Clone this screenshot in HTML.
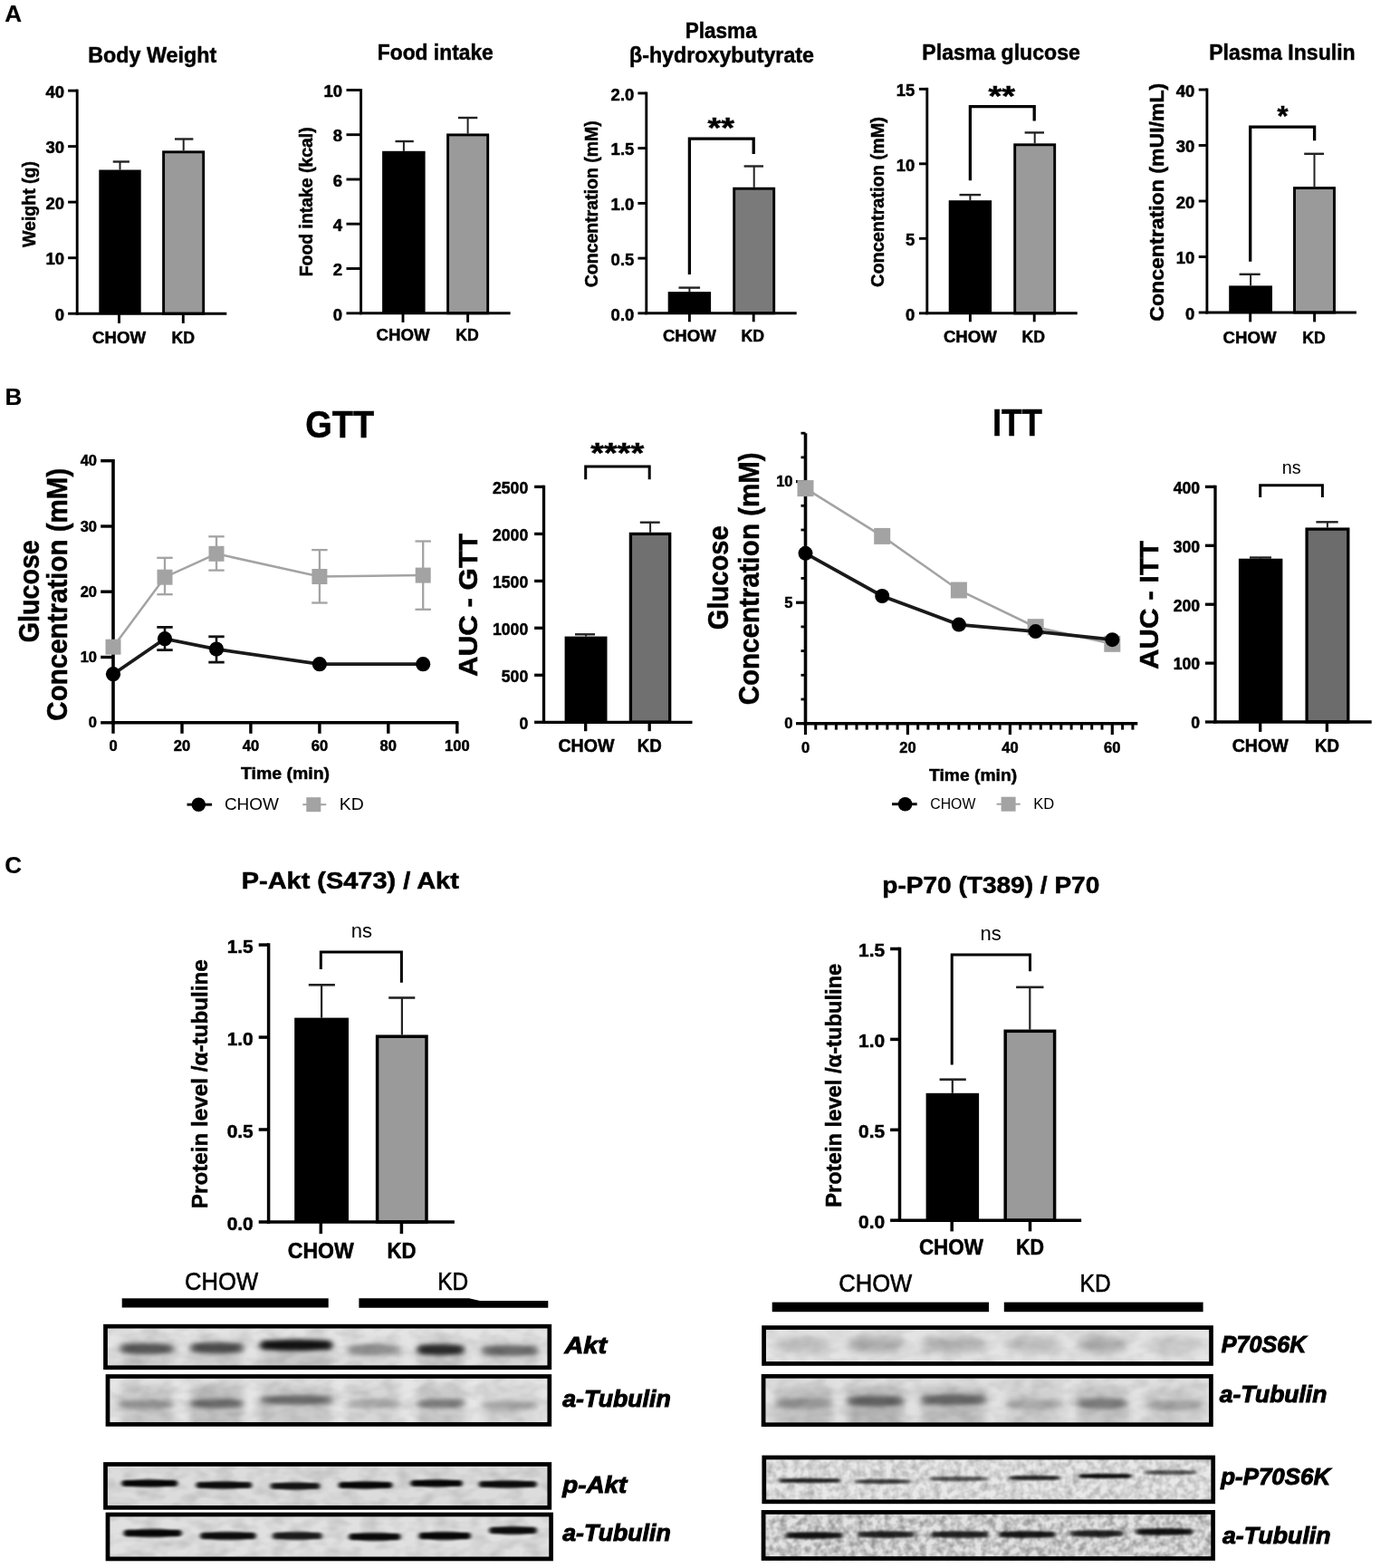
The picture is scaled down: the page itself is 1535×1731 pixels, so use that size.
<!DOCTYPE html>
<html lang="en">
<head>
<meta charset="utf-8">
<title>Figure</title>
<style>
html,body{margin:0;padding:0;background:#fff;}
body{width:1535px;height:1731px;overflow:hidden;font-family:"Liberation Sans",Arial,sans-serif;}
svg{display:block;}
</style>
</head>
<body>
<svg width="1535" height="1731" viewBox="0 0 1535 1731">
<rect width="1535" height="1731" fill="#fff"/>
<g font-family='"Liberation Sans", Arial, sans-serif' fill="#000">
<text x="5.2" y="23.9" font-size="26.0" text-anchor="start" font-weight="bold" stroke="#000" stroke-width="0.2">A</text>
<text x="5.6" y="447.4" font-size="26.0" text-anchor="start" font-weight="bold" stroke="#000" stroke-width="0.2">B</text>
<text x="5.2" y="964.3" font-size="26.0" text-anchor="start" font-weight="bold" stroke="#000" stroke-width="0.2">C</text>
<text x="168.2" y="68.5" font-size="24.75" text-anchor="middle" font-weight="bold" stroke="#000" stroke-width="0.5" textLength="142.0" lengthAdjust="spacingAndGlyphs">Body Weight</text>
<text x="38.6" y="225.5" font-size="20.02" text-anchor="middle" font-weight="bold" stroke="#000" stroke-width="0.5" textLength="95.0" lengthAdjust="spacingAndGlyphs" transform="rotate(-90 38.6 225.5)">Weight (g)</text>
<line x1="132.5" y1="187.5" x2="132.5" y2="178.5" stroke="#222" stroke-width="2.0" stroke-linecap="butt"/>
<line x1="124.7" y1="178.5" x2="142.9" y2="178.5" stroke="#222" stroke-width="2.4" stroke-linecap="butt"/>
<line x1="202.7" y1="166.3" x2="202.7" y2="153.5" stroke="#222" stroke-width="2.0" stroke-linecap="butt"/>
<line x1="193.0" y1="153.5" x2="213.4" y2="153.5" stroke="#222" stroke-width="2.4" stroke-linecap="butt"/>
<rect x="109.3" y="187.5" width="46.4" height="158.7" fill="#000"/>
<rect x="180.6" y="167.8" width="44.1" height="178.4" fill="#9a9a9a" stroke="#000" stroke-width="2.9"/>
<line x1="85.2" y1="98.6" x2="85.2" y2="347.6" stroke="#000" stroke-width="2.9" stroke-linecap="butt"/>
<line x1="83.8" y1="346.2" x2="250.3" y2="346.2" stroke="#000" stroke-width="2.9" stroke-linecap="butt"/>
<line x1="75.1" y1="346.2" x2="85.2" y2="346.2" stroke="#000" stroke-width="2.9" stroke-linecap="butt"/>
<text x="71.0" y="353.9" font-size="18.48" text-anchor="end" font-weight="bold" stroke="#000" stroke-width="0.5">0</text>
<line x1="75.1" y1="284.7" x2="85.2" y2="284.7" stroke="#000" stroke-width="2.9" stroke-linecap="butt"/>
<text x="71.0" y="292.3" font-size="18.48" text-anchor="end" font-weight="bold" stroke="#000" stroke-width="0.5">10</text>
<line x1="75.1" y1="223.1" x2="85.2" y2="223.1" stroke="#000" stroke-width="2.9" stroke-linecap="butt"/>
<text x="71.0" y="230.8" font-size="18.48" text-anchor="end" font-weight="bold" stroke="#000" stroke-width="0.5">20</text>
<line x1="75.1" y1="161.6" x2="85.2" y2="161.6" stroke="#000" stroke-width="2.9" stroke-linecap="butt"/>
<text x="71.0" y="169.3" font-size="18.48" text-anchor="end" font-weight="bold" stroke="#000" stroke-width="0.5">30</text>
<line x1="75.1" y1="100.1" x2="85.2" y2="100.1" stroke="#000" stroke-width="2.9" stroke-linecap="butt"/>
<text x="71.0" y="107.8" font-size="18.48" text-anchor="end" font-weight="bold" stroke="#000" stroke-width="0.5">40</text>
<line x1="131.5" y1="346.2" x2="131.5" y2="356.9" stroke="#000" stroke-width="2.9" stroke-linecap="butt"/>
<text x="131.5" y="378.7" font-size="19.25" text-anchor="middle" font-weight="bold" stroke="#000" stroke-width="0.5" textLength="59.0" lengthAdjust="spacingAndGlyphs">CHOW</text>
<line x1="202.3" y1="346.2" x2="202.3" y2="356.9" stroke="#000" stroke-width="2.9" stroke-linecap="butt"/>
<text x="202.3" y="378.7" font-size="19.25" text-anchor="middle" font-weight="bold" stroke="#000" stroke-width="0.5" textLength="25.5" lengthAdjust="spacingAndGlyphs">KD</text>
<text x="480.8" y="66.3" font-size="24.75" text-anchor="middle" font-weight="bold" stroke="#000" stroke-width="0.5" textLength="128.0" lengthAdjust="spacingAndGlyphs">Food intake</text>
<text x="345.2" y="222.8" font-size="19.8" text-anchor="middle" font-weight="bold" stroke="#000" stroke-width="0.5" textLength="165.0" lengthAdjust="spacingAndGlyphs" transform="rotate(-90 345.2 222.8)">Food intake (kcal)</text>
<line x1="445.9" y1="166.8" x2="445.9" y2="156.0" stroke="#222" stroke-width="2.0" stroke-linecap="butt"/>
<line x1="436.5" y1="156.0" x2="456.8" y2="156.0" stroke="#222" stroke-width="2.4" stroke-linecap="butt"/>
<line x1="516.6" y1="147.5" x2="516.6" y2="130.0" stroke="#222" stroke-width="2.0" stroke-linecap="butt"/>
<line x1="505.9" y1="130.0" x2="527.3" y2="130.0" stroke="#222" stroke-width="2.4" stroke-linecap="butt"/>
<rect x="422.1" y="166.8" width="47.5" height="179.0" fill="#000"/>
<rect x="494.6" y="148.9" width="44.1" height="196.9" fill="#9a9a9a" stroke="#000" stroke-width="2.9"/>
<line x1="398.6" y1="98.0" x2="398.6" y2="347.2" stroke="#000" stroke-width="2.9" stroke-linecap="butt"/>
<line x1="397.2" y1="345.8" x2="563.6" y2="345.8" stroke="#000" stroke-width="2.9" stroke-linecap="butt"/>
<line x1="382.5" y1="345.8" x2="398.6" y2="345.8" stroke="#000" stroke-width="2.9" stroke-linecap="butt"/>
<text x="378.1" y="353.5" font-size="18.48" text-anchor="end" font-weight="bold" stroke="#000" stroke-width="0.5">0</text>
<line x1="382.5" y1="296.5" x2="398.6" y2="296.5" stroke="#000" stroke-width="2.9" stroke-linecap="butt"/>
<text x="378.1" y="304.2" font-size="18.48" text-anchor="end" font-weight="bold" stroke="#000" stroke-width="0.5">2</text>
<line x1="382.5" y1="247.2" x2="398.6" y2="247.2" stroke="#000" stroke-width="2.9" stroke-linecap="butt"/>
<text x="378.1" y="254.9" font-size="18.48" text-anchor="end" font-weight="bold" stroke="#000" stroke-width="0.5">4</text>
<line x1="382.5" y1="198.0" x2="398.6" y2="198.0" stroke="#000" stroke-width="2.9" stroke-linecap="butt"/>
<text x="378.1" y="205.6" font-size="18.48" text-anchor="end" font-weight="bold" stroke="#000" stroke-width="0.5">6</text>
<line x1="382.5" y1="148.7" x2="398.6" y2="148.7" stroke="#000" stroke-width="2.9" stroke-linecap="butt"/>
<text x="378.1" y="156.3" font-size="18.48" text-anchor="end" font-weight="bold" stroke="#000" stroke-width="0.5">8</text>
<line x1="382.5" y1="99.4" x2="398.6" y2="99.4" stroke="#000" stroke-width="2.9" stroke-linecap="butt"/>
<text x="378.1" y="107.1" font-size="18.48" text-anchor="end" font-weight="bold" stroke="#000" stroke-width="0.5">10</text>
<line x1="445.0" y1="345.8" x2="445.0" y2="355.9" stroke="#000" stroke-width="2.9" stroke-linecap="butt"/>
<text x="445.0" y="375.7" font-size="19.25" text-anchor="middle" font-weight="bold" stroke="#000" stroke-width="0.5" textLength="59.0" lengthAdjust="spacingAndGlyphs">CHOW</text>
<line x1="516.6" y1="345.8" x2="516.6" y2="355.9" stroke="#000" stroke-width="2.9" stroke-linecap="butt"/>
<text x="516.0" y="375.7" font-size="19.25" text-anchor="middle" font-weight="bold" stroke="#000" stroke-width="0.5" textLength="25.5" lengthAdjust="spacingAndGlyphs">KD</text>
<text x="796.2" y="41.6" font-size="24.75" text-anchor="middle" font-weight="bold" stroke="#000" stroke-width="0.5" textLength="79.0" lengthAdjust="spacingAndGlyphs">Plasma</text>
<text x="797.0" y="69.0" font-size="24.75" text-anchor="middle" font-weight="bold" stroke="#000" stroke-width="0.5" textLength="204.0" lengthAdjust="spacingAndGlyphs">β-hydroxybutyrate</text>
<text x="660.4" y="225.2" font-size="19.8" text-anchor="middle" font-weight="bold" stroke="#000" stroke-width="0.5" textLength="184.0" lengthAdjust="spacingAndGlyphs" transform="rotate(-90 660.4 225.2)">Concentration (mM)</text>
<line x1="761.4" y1="322.1" x2="761.4" y2="317.6" stroke="#222" stroke-width="2.0" stroke-linecap="butt"/>
<line x1="749.5" y1="317.6" x2="773.1" y2="317.6" stroke="#222" stroke-width="2.4" stroke-linecap="butt"/>
<line x1="832.7" y1="206.8" x2="832.7" y2="183.5" stroke="#222" stroke-width="2.0" stroke-linecap="butt"/>
<line x1="821.6" y1="183.5" x2="843.0" y2="183.5" stroke="#222" stroke-width="2.4" stroke-linecap="butt"/>
<rect x="737.7" y="322.1" width="47.4" height="23.7" fill="#000"/>
<rect x="810.7" y="208.2" width="44.0" height="137.6" fill="#7a7a7a" stroke="#000" stroke-width="2.9"/>
<line x1="713.8" y1="101.5" x2="713.8" y2="347.2" stroke="#000" stroke-width="2.9" stroke-linecap="butt"/>
<line x1="712.3" y1="345.8" x2="879.7" y2="345.8" stroke="#000" stroke-width="2.9" stroke-linecap="butt"/>
<line x1="704.4" y1="345.8" x2="713.8" y2="345.8" stroke="#000" stroke-width="2.9" stroke-linecap="butt"/>
<text x="700.3" y="353.5" font-size="18.48" text-anchor="end" font-weight="bold" stroke="#000" stroke-width="0.5">0.0</text>
<line x1="704.4" y1="285.1" x2="713.8" y2="285.1" stroke="#000" stroke-width="2.9" stroke-linecap="butt"/>
<text x="700.3" y="292.7" font-size="18.48" text-anchor="end" font-weight="bold" stroke="#000" stroke-width="0.5">0.5</text>
<line x1="704.4" y1="224.4" x2="713.8" y2="224.4" stroke="#000" stroke-width="2.9" stroke-linecap="butt"/>
<text x="700.3" y="232.0" font-size="18.48" text-anchor="end" font-weight="bold" stroke="#000" stroke-width="0.5">1.0</text>
<line x1="704.4" y1="163.6" x2="713.8" y2="163.6" stroke="#000" stroke-width="2.9" stroke-linecap="butt"/>
<text x="700.3" y="171.3" font-size="18.48" text-anchor="end" font-weight="bold" stroke="#000" stroke-width="0.5">1.5</text>
<line x1="704.4" y1="102.9" x2="713.8" y2="102.9" stroke="#000" stroke-width="2.9" stroke-linecap="butt"/>
<text x="700.3" y="110.6" font-size="18.48" text-anchor="end" font-weight="bold" stroke="#000" stroke-width="0.5">2.0</text>
<line x1="761.4" y1="345.8" x2="761.4" y2="355.3" stroke="#000" stroke-width="2.9" stroke-linecap="butt"/>
<text x="761.4" y="376.9" font-size="19.25" text-anchor="middle" font-weight="bold" stroke="#000" stroke-width="0.5" textLength="59.0" lengthAdjust="spacingAndGlyphs">CHOW</text>
<line x1="832.2" y1="345.8" x2="832.2" y2="355.3" stroke="#000" stroke-width="2.9" stroke-linecap="butt"/>
<text x="831.3" y="376.9" font-size="19.25" text-anchor="middle" font-weight="bold" stroke="#000" stroke-width="0.5" textLength="25.5" lengthAdjust="spacingAndGlyphs">KD</text>
<path d="M761.4 303.0 V153.1 H832.2 V170.0" fill="none" stroke="#000" stroke-width="3.3" stroke-linejoin="miter"/>
<text x="796.3" y="152.0" font-size="30.8" text-anchor="middle" font-weight="bold" stroke="#000" stroke-width="0.5" textLength="29.5" lengthAdjust="spacingAndGlyphs">**</text>
<text x="1105.6" y="65.7" font-size="24.75" text-anchor="middle" font-weight="bold" stroke="#000" stroke-width="0.5" textLength="174.5" lengthAdjust="spacingAndGlyphs">Plasma glucose</text>
<text x="976.0" y="223.0" font-size="20.35" text-anchor="middle" font-weight="bold" stroke="#000" stroke-width="0.5" textLength="188.0" lengthAdjust="spacingAndGlyphs" transform="rotate(-90 976.0 223.0)">Concentration (mM)</text>
<line x1="1071.4" y1="221.2" x2="1071.4" y2="215.1" stroke="#222" stroke-width="2.0" stroke-linecap="butt"/>
<line x1="1059.5" y1="215.1" x2="1083.1" y2="215.1" stroke="#222" stroke-width="2.4" stroke-linecap="butt"/>
<line x1="1142.7" y1="158.3" x2="1142.7" y2="146.4" stroke="#222" stroke-width="2.0" stroke-linecap="butt"/>
<line x1="1131.6" y1="146.4" x2="1153.0" y2="146.4" stroke="#222" stroke-width="2.4" stroke-linecap="butt"/>
<rect x="1047.7" y="221.2" width="47.4" height="124.6" fill="#000"/>
<rect x="1120.7" y="159.8" width="44.0" height="186.1" fill="#9a9a9a" stroke="#000" stroke-width="2.9"/>
<line x1="1023.8" y1="96.8" x2="1023.8" y2="347.2" stroke="#000" stroke-width="2.9" stroke-linecap="butt"/>
<line x1="1022.3" y1="345.8" x2="1189.7" y2="345.8" stroke="#000" stroke-width="2.9" stroke-linecap="butt"/>
<line x1="1015.0" y1="345.8" x2="1023.8" y2="345.8" stroke="#000" stroke-width="2.9" stroke-linecap="butt"/>
<text x="1010.3" y="353.5" font-size="18.48" text-anchor="end" font-weight="bold" stroke="#000" stroke-width="0.5">0</text>
<line x1="1015.0" y1="263.3" x2="1023.8" y2="263.3" stroke="#000" stroke-width="2.9" stroke-linecap="butt"/>
<text x="1010.3" y="271.0" font-size="18.48" text-anchor="end" font-weight="bold" stroke="#000" stroke-width="0.5">5</text>
<line x1="1015.0" y1="180.8" x2="1023.8" y2="180.8" stroke="#000" stroke-width="2.9" stroke-linecap="butt"/>
<text x="1010.3" y="188.5" font-size="18.48" text-anchor="end" font-weight="bold" stroke="#000" stroke-width="0.5">10</text>
<line x1="1015.0" y1="98.3" x2="1023.8" y2="98.3" stroke="#000" stroke-width="2.9" stroke-linecap="butt"/>
<text x="1010.3" y="106.0" font-size="18.48" text-anchor="end" font-weight="bold" stroke="#000" stroke-width="0.5">15</text>
<line x1="1071.4" y1="345.8" x2="1071.4" y2="355.3" stroke="#000" stroke-width="2.9" stroke-linecap="butt"/>
<text x="1071.4" y="377.8" font-size="19.25" text-anchor="middle" font-weight="bold" stroke="#000" stroke-width="0.5" textLength="59.0" lengthAdjust="spacingAndGlyphs">CHOW</text>
<line x1="1142.2" y1="345.8" x2="1142.2" y2="355.3" stroke="#000" stroke-width="2.9" stroke-linecap="butt"/>
<text x="1141.3" y="377.8" font-size="19.25" text-anchor="middle" font-weight="bold" stroke="#000" stroke-width="0.5" textLength="25.5" lengthAdjust="spacingAndGlyphs">KD</text>
<path d="M1071.4 199.3 V117.7 H1142.2 V133.5" fill="none" stroke="#000" stroke-width="3.3" stroke-linejoin="miter"/>
<text x="1106.3" y="117.0" font-size="30.8" text-anchor="middle" font-weight="bold" stroke="#000" stroke-width="0.5" textLength="29.5" lengthAdjust="spacingAndGlyphs">**</text>
<text x="1415.9" y="66.0" font-size="24.75" text-anchor="middle" font-weight="bold" stroke="#000" stroke-width="0.5" textLength="161.5" lengthAdjust="spacingAndGlyphs">Plasma Insulin</text>
<text x="1284.9" y="223.2" font-size="22.55" text-anchor="middle" font-weight="bold" stroke="#000" stroke-width="0.5" textLength="263.0" lengthAdjust="spacingAndGlyphs" transform="rotate(-90 1284.9 223.2)">Concentration (mUI/mL)</text>
<line x1="1381.1" y1="315.4" x2="1381.1" y2="302.8" stroke="#222" stroke-width="2.0" stroke-linecap="butt"/>
<line x1="1368.6" y1="302.8" x2="1391.7" y2="302.8" stroke="#222" stroke-width="2.4" stroke-linecap="butt"/>
<line x1="1451.5" y1="206.2" x2="1451.5" y2="169.8" stroke="#222" stroke-width="2.0" stroke-linecap="butt"/>
<line x1="1440.2" y1="169.8" x2="1462.0" y2="169.8" stroke="#222" stroke-width="2.4" stroke-linecap="butt"/>
<rect x="1357.2" y="315.4" width="47.8" height="29.6" fill="#000"/>
<rect x="1429.5" y="207.6" width="44.0" height="137.4" fill="#9a9a9a" stroke="#000" stroke-width="2.9"/>
<line x1="1332.9" y1="97.5" x2="1332.9" y2="346.4" stroke="#000" stroke-width="2.9" stroke-linecap="butt"/>
<line x1="1331.5" y1="345.0" x2="1497.9" y2="345.0" stroke="#000" stroke-width="2.9" stroke-linecap="butt"/>
<line x1="1323.7" y1="345.0" x2="1332.9" y2="345.0" stroke="#000" stroke-width="2.9" stroke-linecap="butt"/>
<text x="1319.4" y="352.7" font-size="18.48" text-anchor="end" font-weight="bold" stroke="#000" stroke-width="0.5">0</text>
<line x1="1323.7" y1="283.5" x2="1332.9" y2="283.5" stroke="#000" stroke-width="2.9" stroke-linecap="butt"/>
<text x="1319.4" y="291.2" font-size="18.48" text-anchor="end" font-weight="bold" stroke="#000" stroke-width="0.5">10</text>
<line x1="1323.7" y1="222.0" x2="1332.9" y2="222.0" stroke="#000" stroke-width="2.9" stroke-linecap="butt"/>
<text x="1319.4" y="229.7" font-size="18.48" text-anchor="end" font-weight="bold" stroke="#000" stroke-width="0.5">20</text>
<line x1="1323.7" y1="160.5" x2="1332.9" y2="160.5" stroke="#000" stroke-width="2.9" stroke-linecap="butt"/>
<text x="1319.4" y="168.2" font-size="18.48" text-anchor="end" font-weight="bold" stroke="#000" stroke-width="0.5">30</text>
<line x1="1323.7" y1="99.0" x2="1332.9" y2="99.0" stroke="#000" stroke-width="2.9" stroke-linecap="butt"/>
<text x="1319.4" y="106.7" font-size="18.48" text-anchor="end" font-weight="bold" stroke="#000" stroke-width="0.5">40</text>
<line x1="1380.7" y1="345.0" x2="1380.7" y2="355.4" stroke="#000" stroke-width="2.9" stroke-linecap="butt"/>
<text x="1380.0" y="378.5" font-size="19.25" text-anchor="middle" font-weight="bold" stroke="#000" stroke-width="0.5" textLength="59.0" lengthAdjust="spacingAndGlyphs">CHOW</text>
<line x1="1451.6" y1="345.0" x2="1451.6" y2="355.4" stroke="#000" stroke-width="2.9" stroke-linecap="butt"/>
<text x="1451.0" y="378.5" font-size="19.25" text-anchor="middle" font-weight="bold" stroke="#000" stroke-width="0.5" textLength="25.5" lengthAdjust="spacingAndGlyphs">KD</text>
<path d="M1380.7 288.7 V140.2 H1451.6 V155.3" fill="none" stroke="#000" stroke-width="3.3" stroke-linejoin="miter"/>
<text x="1416.6" y="139.0" font-size="30.8" text-anchor="middle" font-weight="bold" stroke="#000" stroke-width="0.5">*</text>
<text x="375.2" y="482.5" font-size="42.9" text-anchor="middle" font-weight="bold" stroke="#000" stroke-width="0.5" textLength="76.0" lengthAdjust="spacingAndGlyphs">GTT</text>
<text x="43.2" y="652.7" font-size="31.35" text-anchor="middle" font-weight="bold" stroke="#000" stroke-width="0.5" textLength="113.0" lengthAdjust="spacingAndGlyphs" transform="rotate(-90 43.2 652.7)">Glucose</text>
<text x="74.2" y="656.2" font-size="31.35" text-anchor="middle" font-weight="bold" stroke="#000" stroke-width="0.5" textLength="279.0" lengthAdjust="spacingAndGlyphs" transform="rotate(-90 74.2 656.2)">Concentration (mM)</text>
<line x1="125.0" y1="507.0" x2="125.0" y2="799.6" stroke="#000" stroke-width="3.6" stroke-linecap="butt"/>
<line x1="123.2" y1="797.8" x2="506.4" y2="797.8" stroke="#000" stroke-width="3.6" stroke-linecap="butt"/>
<line x1="111.2" y1="797.8" x2="125.0" y2="797.8" stroke="#000" stroke-width="3.4" stroke-linecap="butt"/>
<text x="107.0" y="803.3" font-size="16.5" text-anchor="end" font-weight="bold" stroke="#000" stroke-width="0.5">0</text>
<line x1="111.2" y1="725.5" x2="125.0" y2="725.5" stroke="#000" stroke-width="3.4" stroke-linecap="butt"/>
<text x="107.0" y="731.0" font-size="16.5" text-anchor="end" font-weight="bold" stroke="#000" stroke-width="0.5">10</text>
<line x1="111.2" y1="653.2" x2="125.0" y2="653.2" stroke="#000" stroke-width="3.4" stroke-linecap="butt"/>
<text x="107.0" y="658.8" font-size="16.5" text-anchor="end" font-weight="bold" stroke="#000" stroke-width="0.5">20</text>
<line x1="111.2" y1="581.0" x2="125.0" y2="581.0" stroke="#000" stroke-width="3.4" stroke-linecap="butt"/>
<text x="107.0" y="586.5" font-size="16.5" text-anchor="end" font-weight="bold" stroke="#000" stroke-width="0.5">30</text>
<line x1="111.2" y1="508.7" x2="125.0" y2="508.7" stroke="#000" stroke-width="3.4" stroke-linecap="butt"/>
<text x="107.0" y="514.2" font-size="16.5" text-anchor="end" font-weight="bold" stroke="#000" stroke-width="0.5">40</text>
<line x1="125.0" y1="797.8" x2="125.0" y2="809.8" stroke="#000" stroke-width="3.4" stroke-linecap="butt"/>
<text x="125.0" y="828.8" font-size="16.5" text-anchor="middle" font-weight="bold" stroke="#000" stroke-width="0.5">0</text>
<line x1="201.0" y1="797.8" x2="201.0" y2="809.8" stroke="#000" stroke-width="3.4" stroke-linecap="butt"/>
<text x="201.0" y="828.8" font-size="16.5" text-anchor="middle" font-weight="bold" stroke="#000" stroke-width="0.5">20</text>
<line x1="276.9" y1="797.8" x2="276.9" y2="809.8" stroke="#000" stroke-width="3.4" stroke-linecap="butt"/>
<text x="276.9" y="828.8" font-size="16.5" text-anchor="middle" font-weight="bold" stroke="#000" stroke-width="0.5">40</text>
<line x1="352.9" y1="797.8" x2="352.9" y2="809.8" stroke="#000" stroke-width="3.4" stroke-linecap="butt"/>
<text x="352.9" y="828.8" font-size="16.5" text-anchor="middle" font-weight="bold" stroke="#000" stroke-width="0.5">60</text>
<line x1="428.8" y1="797.8" x2="428.8" y2="809.8" stroke="#000" stroke-width="3.4" stroke-linecap="butt"/>
<text x="428.8" y="828.8" font-size="16.5" text-anchor="middle" font-weight="bold" stroke="#000" stroke-width="0.5">80</text>
<line x1="504.8" y1="797.8" x2="504.8" y2="809.8" stroke="#000" stroke-width="3.4" stroke-linecap="butt"/>
<text x="504.8" y="828.8" font-size="16.5" text-anchor="middle" font-weight="bold" stroke="#000" stroke-width="0.5">100</text>
<text x="315.0" y="859.9" font-size="18.7" text-anchor="middle" font-weight="bold" stroke="#000" stroke-width="0.5" textLength="98.0" lengthAdjust="spacingAndGlyphs">Time (min)</text>
<polyline fill="none" stroke="#a3a3a3" stroke-width="2.5" points="125,714.2 182,637.2 239,611.3 352.9,636.5 467.2,635.1"/>
<rect x="116.5" y="705.7" width="17.0" height="17.0" fill="#a3a3a3"/>
<line x1="182.0" y1="615.8" x2="182.0" y2="656.2" stroke="#a3a3a3" stroke-width="2.3" stroke-linecap="butt"/>
<line x1="173.3" y1="615.8" x2="190.7" y2="615.8" stroke="#a3a3a3" stroke-width="2.3" stroke-linecap="butt"/>
<line x1="173.3" y1="656.2" x2="190.7" y2="656.2" stroke="#a3a3a3" stroke-width="2.3" stroke-linecap="butt"/>
<rect x="173.5" y="628.7" width="17.0" height="17.0" fill="#a3a3a3"/>
<line x1="239.0" y1="592.3" x2="239.0" y2="629.6" stroke="#a3a3a3" stroke-width="2.3" stroke-linecap="butt"/>
<line x1="230.3" y1="592.3" x2="247.7" y2="592.3" stroke="#a3a3a3" stroke-width="2.3" stroke-linecap="butt"/>
<line x1="230.3" y1="629.6" x2="247.7" y2="629.6" stroke="#a3a3a3" stroke-width="2.3" stroke-linecap="butt"/>
<rect x="230.5" y="602.8" width="17.0" height="17.0" fill="#a3a3a3"/>
<line x1="352.9" y1="607.1" x2="352.9" y2="665.5" stroke="#a3a3a3" stroke-width="2.3" stroke-linecap="butt"/>
<line x1="344.2" y1="607.1" x2="361.6" y2="607.1" stroke="#a3a3a3" stroke-width="2.3" stroke-linecap="butt"/>
<line x1="344.2" y1="665.5" x2="361.6" y2="665.5" stroke="#a3a3a3" stroke-width="2.3" stroke-linecap="butt"/>
<rect x="344.4" y="628.0" width="17.0" height="17.0" fill="#a3a3a3"/>
<line x1="467.2" y1="597.5" x2="467.2" y2="672.8" stroke="#a3a3a3" stroke-width="2.3" stroke-linecap="butt"/>
<line x1="458.5" y1="597.5" x2="475.9" y2="597.5" stroke="#a3a3a3" stroke-width="2.3" stroke-linecap="butt"/>
<line x1="458.5" y1="672.8" x2="475.9" y2="672.8" stroke="#a3a3a3" stroke-width="2.3" stroke-linecap="butt"/>
<rect x="458.7" y="626.6" width="17.0" height="17.0" fill="#a3a3a3"/>
<polyline fill="none" stroke="#1a1a1a" stroke-width="3.7" points="125,744.2 182,705.2 239,716.6 352.9,733.2 467.2,733.2"/>
<circle cx="125" cy="744.2" r="8.1" fill="#000"/>
<line x1="182.0" y1="692.4" x2="182.0" y2="717.6" stroke="#111" stroke-width="2.6" stroke-linecap="butt"/>
<line x1="173.3" y1="692.4" x2="190.7" y2="692.4" stroke="#111" stroke-width="2.8" stroke-linecap="butt"/>
<line x1="173.3" y1="717.6" x2="190.7" y2="717.6" stroke="#111" stroke-width="2.8" stroke-linecap="butt"/>
<circle cx="182" cy="705.2" r="8.1" fill="#000"/>
<line x1="239.0" y1="702.8" x2="239.0" y2="731.1" stroke="#111" stroke-width="2.6" stroke-linecap="butt"/>
<line x1="230.3" y1="702.8" x2="247.7" y2="702.8" stroke="#111" stroke-width="2.8" stroke-linecap="butt"/>
<line x1="230.3" y1="731.1" x2="247.7" y2="731.1" stroke="#111" stroke-width="2.8" stroke-linecap="butt"/>
<circle cx="239" cy="716.6" r="8.1" fill="#000"/>
<circle cx="352.9" cy="733.2" r="8.1" fill="#000"/>
<circle cx="467.2" cy="733.2" r="8.1" fill="#000"/>
<line x1="206.5" y1="888.2" x2="234.1" y2="888.2" stroke="#111" stroke-width="3" stroke-linecap="butt"/>
<circle cx="219.3" cy="888.2" r="7.8" fill="#000"/>
<text x="247.9" y="894.4" font-size="17.6" text-anchor="start" textLength="60.0" lengthAdjust="spacingAndGlyphs">CHOW</text>
<line x1="334.3" y1="888.2" x2="360.2" y2="888.2" stroke="#a3a3a3" stroke-width="2" stroke-linecap="butt"/>
<rect x="338.3" y="880.2" width="16.0" height="16.0" fill="#a3a3a3"/>
<text x="374.7" y="894.4" font-size="17.6" text-anchor="start" textLength="27.0" lengthAdjust="spacingAndGlyphs">KD</text>
<text x="526.6" y="667.9" font-size="30.25" text-anchor="middle" font-weight="bold" stroke="#000" stroke-width="0.5" textLength="158.0" lengthAdjust="spacingAndGlyphs" transform="rotate(-90 526.6 667.9)">AUC - GTT</text>
<line x1="647.0" y1="702.6" x2="647.0" y2="700.3" stroke="#222" stroke-width="2.0" stroke-linecap="butt"/>
<line x1="635.0" y1="700.3" x2="657.0" y2="700.3" stroke="#222" stroke-width="2.4" stroke-linecap="butt"/>
<line x1="718.1" y1="587.8" x2="718.1" y2="576.7" stroke="#222" stroke-width="2.0" stroke-linecap="butt"/>
<line x1="706.8" y1="576.7" x2="728.7" y2="576.7" stroke="#222" stroke-width="2.4" stroke-linecap="butt"/>
<rect x="623.6" y="702.6" width="46.9" height="94.7" fill="#000"/>
<rect x="696.4" y="589.4" width="43.3" height="207.8" fill="#707070" stroke="#000" stroke-width="3.3"/>
<line x1="600.5" y1="535.8" x2="600.5" y2="798.9" stroke="#000" stroke-width="3.3" stroke-linecap="butt"/>
<line x1="598.9" y1="797.3" x2="764.5" y2="797.3" stroke="#000" stroke-width="3.3" stroke-linecap="butt"/>
<line x1="590.1" y1="797.3" x2="600.5" y2="797.3" stroke="#000" stroke-width="3.3" stroke-linecap="butt"/>
<text x="583.2" y="804.6" font-size="17.6" text-anchor="end" font-weight="bold" stroke="#000" stroke-width="0.5">0</text>
<line x1="590.1" y1="745.3" x2="600.5" y2="745.3" stroke="#000" stroke-width="3.3" stroke-linecap="butt"/>
<text x="583.2" y="752.7" font-size="17.6" text-anchor="end" font-weight="bold" stroke="#000" stroke-width="0.5">500</text>
<line x1="590.1" y1="693.3" x2="600.5" y2="693.3" stroke="#000" stroke-width="3.3" stroke-linecap="butt"/>
<text x="583.2" y="700.7" font-size="17.6" text-anchor="end" font-weight="bold" stroke="#000" stroke-width="0.5">1000</text>
<line x1="590.1" y1="641.4" x2="600.5" y2="641.4" stroke="#000" stroke-width="3.3" stroke-linecap="butt"/>
<text x="583.2" y="648.7" font-size="17.6" text-anchor="end" font-weight="bold" stroke="#000" stroke-width="0.5">1500</text>
<line x1="590.1" y1="589.4" x2="600.5" y2="589.4" stroke="#000" stroke-width="3.3" stroke-linecap="butt"/>
<text x="583.2" y="596.7" font-size="17.6" text-anchor="end" font-weight="bold" stroke="#000" stroke-width="0.5">2000</text>
<line x1="590.1" y1="537.4" x2="600.5" y2="537.4" stroke="#000" stroke-width="3.3" stroke-linecap="butt"/>
<text x="583.2" y="544.7" font-size="17.6" text-anchor="end" font-weight="bold" stroke="#000" stroke-width="0.5">2500</text>
<line x1="646.7" y1="797.3" x2="646.7" y2="807.2" stroke="#000" stroke-width="3.3" stroke-linecap="butt"/>
<text x="647.4" y="830.1" font-size="19.8" text-anchor="middle" font-weight="bold" stroke="#000" stroke-width="0.5" textLength="62.0" lengthAdjust="spacingAndGlyphs">CHOW</text>
<line x1="717.2" y1="797.3" x2="717.2" y2="807.2" stroke="#000" stroke-width="3.3" stroke-linecap="butt"/>
<text x="717.2" y="830.1" font-size="19.8" text-anchor="middle" font-weight="bold" stroke="#000" stroke-width="0.5" textLength="27.0" lengthAdjust="spacingAndGlyphs">KD</text>
<path d="M646.7 529.3 V515.0 H717.2 V529.3" fill="none" stroke="#000" stroke-width="3" stroke-linejoin="miter"/>
<text x="681.8" y="511.0" font-size="30.8" text-anchor="middle" font-weight="bold" stroke="#000" stroke-width="0.5" textLength="59.0" lengthAdjust="spacingAndGlyphs">****</text>
<text x="1123.4" y="480.5" font-size="42.35" text-anchor="middle" font-weight="bold" stroke="#000" stroke-width="0.5" textLength="55.0" lengthAdjust="spacingAndGlyphs">ITT</text>
<text x="804.2" y="637.7" font-size="31.35" text-anchor="middle" font-weight="bold" stroke="#000" stroke-width="0.5" textLength="115.0" lengthAdjust="spacingAndGlyphs" transform="rotate(-90 804.2 637.7)">Glucose</text>
<text x="838.4" y="638.8" font-size="31.35" text-anchor="middle" font-weight="bold" stroke="#000" stroke-width="0.5" textLength="279.0" lengthAdjust="spacingAndGlyphs" transform="rotate(-90 838.4 638.8)">Concentration (mM)</text>
<line x1="889.5" y1="478.2" x2="889.5" y2="800.5" stroke="#000" stroke-width="3.6" stroke-linecap="butt"/>
<line x1="887.7" y1="798.7" x2="1256.3" y2="798.7" stroke="#000" stroke-width="3.6" stroke-linecap="butt"/>
<line x1="879.0" y1="798.7" x2="889.5" y2="798.7" stroke="#000" stroke-width="3.2" stroke-linecap="butt"/>
<line x1="884.5" y1="772.0" x2="889.5" y2="772.0" stroke="#000" stroke-width="2.8" stroke-linecap="butt"/>
<line x1="884.5" y1="745.3" x2="889.5" y2="745.3" stroke="#000" stroke-width="2.8" stroke-linecap="butt"/>
<line x1="884.5" y1="718.6" x2="889.5" y2="718.6" stroke="#000" stroke-width="2.8" stroke-linecap="butt"/>
<line x1="884.5" y1="691.9" x2="889.5" y2="691.9" stroke="#000" stroke-width="2.8" stroke-linecap="butt"/>
<line x1="879.0" y1="665.2" x2="889.5" y2="665.2" stroke="#000" stroke-width="3.2" stroke-linecap="butt"/>
<line x1="884.5" y1="638.4" x2="889.5" y2="638.4" stroke="#000" stroke-width="2.8" stroke-linecap="butt"/>
<line x1="884.5" y1="611.7" x2="889.5" y2="611.7" stroke="#000" stroke-width="2.8" stroke-linecap="butt"/>
<line x1="884.5" y1="585.0" x2="889.5" y2="585.0" stroke="#000" stroke-width="2.8" stroke-linecap="butt"/>
<line x1="884.5" y1="558.3" x2="889.5" y2="558.3" stroke="#000" stroke-width="2.8" stroke-linecap="butt"/>
<line x1="879.0" y1="531.6" x2="889.5" y2="531.6" stroke="#000" stroke-width="3.2" stroke-linecap="butt"/>
<line x1="884.5" y1="504.9" x2="889.5" y2="504.9" stroke="#000" stroke-width="2.8" stroke-linecap="butt"/>
<line x1="884.5" y1="478.2" x2="889.5" y2="478.2" stroke="#000" stroke-width="2.8" stroke-linecap="butt"/>
<text x="875.5" y="804.2" font-size="16.5" text-anchor="end" font-weight="bold" stroke="#000" stroke-width="0.5">0</text>
<text x="875.5" y="670.7" font-size="16.5" text-anchor="end" font-weight="bold" stroke="#000" stroke-width="0.5">5</text>
<text x="875.5" y="537.1" font-size="16.5" text-anchor="end" font-weight="bold" stroke="#000" stroke-width="0.5">10</text>
<line x1="889.5" y1="798.7" x2="889.5" y2="811.1" stroke="#000" stroke-width="3.2" stroke-linecap="butt"/>
<line x1="900.8" y1="798.7" x2="900.8" y2="805.6" stroke="#000" stroke-width="3.0" stroke-linecap="butt"/>
<line x1="912.1" y1="798.7" x2="912.1" y2="805.6" stroke="#000" stroke-width="3.0" stroke-linecap="butt"/>
<line x1="923.4" y1="798.7" x2="923.4" y2="805.6" stroke="#000" stroke-width="3.0" stroke-linecap="butt"/>
<line x1="934.7" y1="798.7" x2="934.7" y2="805.6" stroke="#000" stroke-width="3.0" stroke-linecap="butt"/>
<line x1="946.0" y1="798.7" x2="946.0" y2="805.6" stroke="#000" stroke-width="3.0" stroke-linecap="butt"/>
<line x1="957.3" y1="798.7" x2="957.3" y2="805.6" stroke="#000" stroke-width="3.0" stroke-linecap="butt"/>
<line x1="968.6" y1="798.7" x2="968.6" y2="805.6" stroke="#000" stroke-width="3.0" stroke-linecap="butt"/>
<line x1="979.9" y1="798.7" x2="979.9" y2="805.6" stroke="#000" stroke-width="3.0" stroke-linecap="butt"/>
<line x1="991.1" y1="798.7" x2="991.1" y2="805.6" stroke="#000" stroke-width="3.0" stroke-linecap="butt"/>
<line x1="1002.4" y1="798.7" x2="1002.4" y2="811.1" stroke="#000" stroke-width="3.2" stroke-linecap="butt"/>
<line x1="1013.7" y1="798.7" x2="1013.7" y2="805.6" stroke="#000" stroke-width="3.0" stroke-linecap="butt"/>
<line x1="1025.0" y1="798.7" x2="1025.0" y2="805.6" stroke="#000" stroke-width="3.0" stroke-linecap="butt"/>
<line x1="1036.3" y1="798.7" x2="1036.3" y2="805.6" stroke="#000" stroke-width="3.0" stroke-linecap="butt"/>
<line x1="1047.6" y1="798.7" x2="1047.6" y2="805.6" stroke="#000" stroke-width="3.0" stroke-linecap="butt"/>
<line x1="1058.9" y1="798.7" x2="1058.9" y2="805.6" stroke="#000" stroke-width="3.0" stroke-linecap="butt"/>
<line x1="1070.2" y1="798.7" x2="1070.2" y2="805.6" stroke="#000" stroke-width="3.0" stroke-linecap="butt"/>
<line x1="1081.5" y1="798.7" x2="1081.5" y2="805.6" stroke="#000" stroke-width="3.0" stroke-linecap="butt"/>
<line x1="1092.8" y1="798.7" x2="1092.8" y2="805.6" stroke="#000" stroke-width="3.0" stroke-linecap="butt"/>
<line x1="1104.1" y1="798.7" x2="1104.1" y2="805.6" stroke="#000" stroke-width="3.0" stroke-linecap="butt"/>
<line x1="1115.4" y1="798.7" x2="1115.4" y2="811.1" stroke="#000" stroke-width="3.2" stroke-linecap="butt"/>
<line x1="1126.7" y1="798.7" x2="1126.7" y2="805.6" stroke="#000" stroke-width="3.0" stroke-linecap="butt"/>
<line x1="1138.0" y1="798.7" x2="1138.0" y2="805.6" stroke="#000" stroke-width="3.0" stroke-linecap="butt"/>
<line x1="1149.3" y1="798.7" x2="1149.3" y2="805.6" stroke="#000" stroke-width="3.0" stroke-linecap="butt"/>
<line x1="1160.6" y1="798.7" x2="1160.6" y2="805.6" stroke="#000" stroke-width="3.0" stroke-linecap="butt"/>
<line x1="1171.8" y1="798.7" x2="1171.8" y2="805.6" stroke="#000" stroke-width="3.0" stroke-linecap="butt"/>
<line x1="1183.1" y1="798.7" x2="1183.1" y2="805.6" stroke="#000" stroke-width="3.0" stroke-linecap="butt"/>
<line x1="1194.4" y1="798.7" x2="1194.4" y2="805.6" stroke="#000" stroke-width="3.0" stroke-linecap="butt"/>
<line x1="1205.7" y1="798.7" x2="1205.7" y2="805.6" stroke="#000" stroke-width="3.0" stroke-linecap="butt"/>
<line x1="1217.0" y1="798.7" x2="1217.0" y2="805.6" stroke="#000" stroke-width="3.0" stroke-linecap="butt"/>
<line x1="1228.3" y1="798.7" x2="1228.3" y2="811.1" stroke="#000" stroke-width="3.2" stroke-linecap="butt"/>
<line x1="1239.6" y1="798.7" x2="1239.6" y2="805.6" stroke="#000" stroke-width="3.0" stroke-linecap="butt"/>
<line x1="1250.9" y1="798.7" x2="1250.9" y2="805.6" stroke="#000" stroke-width="3.0" stroke-linecap="butt"/>
<text x="889.5" y="831.3" font-size="16.5" text-anchor="middle" font-weight="bold" stroke="#000" stroke-width="0.5">0</text>
<text x="1002.4" y="831.3" font-size="16.5" text-anchor="middle" font-weight="bold" stroke="#000" stroke-width="0.5">20</text>
<text x="1115.4" y="831.3" font-size="16.5" text-anchor="middle" font-weight="bold" stroke="#000" stroke-width="0.5">40</text>
<text x="1228.3" y="831.3" font-size="16.5" text-anchor="middle" font-weight="bold" stroke="#000" stroke-width="0.5">60</text>
<text x="1074.6" y="861.6" font-size="18.7" text-anchor="middle" font-weight="bold" stroke="#000" stroke-width="0.5" textLength="97.0" lengthAdjust="spacingAndGlyphs">Time (min)</text>
<polyline fill="none" stroke="#a3a3a3" stroke-width="2.5" points="889.5,539.1 974.2,591.9 1058.9,651.5 1143.6,692.2 1228.3,710.8"/>
<rect x="880.5" y="530.1" width="18.0" height="18.0" fill="#a3a3a3"/>
<rect x="965.2" y="582.9" width="18.0" height="18.0" fill="#a3a3a3"/>
<rect x="1049.9" y="642.5" width="18.0" height="18.0" fill="#a3a3a3"/>
<rect x="1134.6" y="683.2" width="18.0" height="18.0" fill="#a3a3a3"/>
<rect x="1219.3" y="701.8" width="18.0" height="18.0" fill="#a3a3a3"/>
<polyline fill="none" stroke="#1a1a1a" stroke-width="3.8" points="889.5,610.8 974.2,658 1058.9,689.6 1143.6,697.1 1228.3,706.2"/>
<circle cx="889.5" cy="610.8" r="8" fill="#000"/>
<circle cx="974.2" cy="658" r="8" fill="#000"/>
<circle cx="1058.9" cy="689.6" r="8" fill="#000"/>
<circle cx="1143.6" cy="697.1" r="8" fill="#000"/>
<circle cx="1228.3" cy="706.2" r="8" fill="#000"/>
<line x1="985.0" y1="887.7" x2="1012.7" y2="887.7" stroke="#111" stroke-width="3" stroke-linecap="butt"/>
<circle cx="999.6" cy="887.7" r="7.8" fill="#000"/>
<text x="1027.3" y="893.2" font-size="15.95" text-anchor="start" textLength="50.0" lengthAdjust="spacingAndGlyphs">CHOW</text>
<line x1="1100.6" y1="887.7" x2="1126.7" y2="887.7" stroke="#a3a3a3" stroke-width="2" stroke-linecap="butt"/>
<rect x="1105.6" y="879.7" width="16.0" height="16.0" fill="#a3a3a3"/>
<text x="1141.3" y="893.2" font-size="15.95" text-anchor="start" textLength="23.0" lengthAdjust="spacingAndGlyphs">KD</text>
<text x="1278.9" y="668.0" font-size="30.25" text-anchor="middle" font-weight="bold" stroke="#000" stroke-width="0.5" textLength="142.0" lengthAdjust="spacingAndGlyphs" transform="rotate(-90 1278.9 668.0)">AUC - ITT</text>
<line x1="1392.2" y1="616.7" x2="1392.2" y2="615.5" stroke="#222" stroke-width="2.0" stroke-linecap="butt"/>
<line x1="1380.0" y1="615.5" x2="1404.0" y2="615.5" stroke="#222" stroke-width="2.4" stroke-linecap="butt"/>
<line x1="1465.9" y1="582.5" x2="1465.9" y2="576.3" stroke="#222" stroke-width="2.0" stroke-linecap="butt"/>
<line x1="1453.4" y1="576.3" x2="1477.7" y2="576.3" stroke="#222" stroke-width="2.4" stroke-linecap="butt"/>
<rect x="1367.9" y="616.7" width="48.5" height="180.3" fill="#000"/>
<rect x="1443.1" y="584.1" width="45.7" height="212.8" fill="#6c6c6c" stroke="#000" stroke-width="3.3"/>
<line x1="1342.0" y1="535.8" x2="1342.0" y2="798.6" stroke="#000" stroke-width="3.3" stroke-linecap="butt"/>
<line x1="1340.3" y1="797.0" x2="1514.7" y2="797.0" stroke="#000" stroke-width="3.3" stroke-linecap="butt"/>
<line x1="1330.9" y1="797.0" x2="1342.0" y2="797.0" stroke="#000" stroke-width="3.3" stroke-linecap="butt"/>
<text x="1325.1" y="804.3" font-size="17.6" text-anchor="end" font-weight="bold" stroke="#000" stroke-width="0.5">0</text>
<line x1="1330.9" y1="732.1" x2="1342.0" y2="732.1" stroke="#000" stroke-width="3.3" stroke-linecap="butt"/>
<text x="1325.1" y="739.4" font-size="17.6" text-anchor="end" font-weight="bold" stroke="#000" stroke-width="0.5">100</text>
<line x1="1330.9" y1="667.2" x2="1342.0" y2="667.2" stroke="#000" stroke-width="3.3" stroke-linecap="butt"/>
<text x="1325.1" y="674.5" font-size="17.6" text-anchor="end" font-weight="bold" stroke="#000" stroke-width="0.5">200</text>
<line x1="1330.9" y1="602.3" x2="1342.0" y2="602.3" stroke="#000" stroke-width="3.3" stroke-linecap="butt"/>
<text x="1325.1" y="609.6" font-size="17.6" text-anchor="end" font-weight="bold" stroke="#000" stroke-width="0.5">300</text>
<line x1="1330.9" y1="537.4" x2="1342.0" y2="537.4" stroke="#000" stroke-width="3.3" stroke-linecap="butt"/>
<text x="1325.1" y="544.7" font-size="17.6" text-anchor="end" font-weight="bold" stroke="#000" stroke-width="0.5">400</text>
<line x1="1391.7" y1="797.0" x2="1391.7" y2="807.9" stroke="#000" stroke-width="3.3" stroke-linecap="butt"/>
<text x="1391.7" y="829.9" font-size="19.8" text-anchor="middle" font-weight="bold" stroke="#000" stroke-width="0.5" textLength="62.0" lengthAdjust="spacingAndGlyphs">CHOW</text>
<line x1="1465.4" y1="797.0" x2="1465.4" y2="807.9" stroke="#000" stroke-width="3.3" stroke-linecap="butt"/>
<text x="1465.4" y="829.9" font-size="19.8" text-anchor="middle" font-weight="bold" stroke="#000" stroke-width="0.5" textLength="27.0" lengthAdjust="spacingAndGlyphs">KD</text>
<path d="M1391.7 549.0 V535.8 H1460.4 V549.0" fill="none" stroke="#000" stroke-width="3" stroke-linejoin="miter"/>
<text x="1426.1" y="522.9" font-size="19.8" text-anchor="middle">ns</text>
<text x="386.8" y="981.2" font-size="25.63" text-anchor="middle" font-weight="bold" stroke="#000" stroke-width="0.5" textLength="240.0" lengthAdjust="spacingAndGlyphs">P-Akt (S473) / Akt</text>
<text x="229.0" y="1196.7" font-size="24.2" text-anchor="middle" font-weight="bold" stroke="#000" stroke-width="0.5" textLength="275.0" lengthAdjust="spacingAndGlyphs" transform="rotate(-90 229.0 1196.7)">Protein level /α-tubuline</text>
<line x1="355.1" y1="1123.6" x2="355.1" y2="1087.3" stroke="#222" stroke-width="2.2" stroke-linecap="butt"/>
<line x1="340.8" y1="1087.3" x2="369.9" y2="1087.3" stroke="#222" stroke-width="2.6" stroke-linecap="butt"/>
<line x1="443.9" y1="1142.4" x2="443.9" y2="1101.5" stroke="#222" stroke-width="2.2" stroke-linecap="butt"/>
<line x1="429.2" y1="1101.5" x2="458.3" y2="1101.5" stroke="#222" stroke-width="2.6" stroke-linecap="butt"/>
<rect x="325.2" y="1123.6" width="59.8" height="225.4" fill="#000"/>
<rect x="416.6" y="1144.2" width="54.4" height="204.8" fill="#9a9a9a" stroke="#000" stroke-width="3.5"/>
<line x1="296.6" y1="1041.3" x2="296.6" y2="1350.8" stroke="#000" stroke-width="3.5" stroke-linecap="butt"/>
<line x1="294.9" y1="1349.0" x2="501.9" y2="1349.0" stroke="#000" stroke-width="3.5" stroke-linecap="butt"/>
<line x1="285.7" y1="1349.0" x2="296.6" y2="1349.0" stroke="#000" stroke-width="3.5" stroke-linecap="butt"/>
<text x="279.7" y="1357.5" font-size="20.9" text-anchor="end" font-weight="bold" stroke="#000" stroke-width="0.5">0.0</text>
<line x1="285.7" y1="1247.0" x2="296.6" y2="1247.0" stroke="#000" stroke-width="3.5" stroke-linecap="butt"/>
<text x="279.7" y="1255.6" font-size="20.9" text-anchor="end" font-weight="bold" stroke="#000" stroke-width="0.5">0.5</text>
<line x1="285.7" y1="1145.1" x2="296.6" y2="1145.1" stroke="#000" stroke-width="3.5" stroke-linecap="butt"/>
<text x="279.7" y="1153.6" font-size="20.9" text-anchor="end" font-weight="bold" stroke="#000" stroke-width="0.5">1.0</text>
<line x1="285.7" y1="1043.1" x2="296.6" y2="1043.1" stroke="#000" stroke-width="3.5" stroke-linecap="butt"/>
<text x="279.7" y="1051.6" font-size="20.9" text-anchor="end" font-weight="bold" stroke="#000" stroke-width="0.5">1.5</text>
<line x1="354.3" y1="1349.0" x2="354.3" y2="1362.0" stroke="#000" stroke-width="3.5" stroke-linecap="butt"/>
<text x="354.3" y="1388.8" font-size="23.65" text-anchor="middle" font-weight="bold" stroke="#000" stroke-width="0.5" textLength="73.0" lengthAdjust="spacingAndGlyphs">CHOW</text>
<line x1="443.4" y1="1349.0" x2="443.4" y2="1362.0" stroke="#000" stroke-width="3.5" stroke-linecap="butt"/>
<text x="443.4" y="1388.8" font-size="23.65" text-anchor="middle" font-weight="bold" stroke="#000" stroke-width="0.5" textLength="32.0" lengthAdjust="spacingAndGlyphs">KD</text>
<path d="M354.3 1070.1 V1050.9 H443.4 V1084.7" fill="none" stroke="#000" stroke-width="3" stroke-linejoin="miter"/>
<text x="399.3" y="1034.5" font-size="22.0" text-anchor="middle">ns</text>
<text x="1094.3" y="986.4" font-size="25.63" text-anchor="middle" font-weight="bold" stroke="#000" stroke-width="0.5" textLength="240.0" lengthAdjust="spacingAndGlyphs">p-P70 (T389) / P70</text>
<text x="929.0" y="1198.2" font-size="24.2" text-anchor="middle" font-weight="bold" stroke="#000" stroke-width="0.5" textLength="269.0" lengthAdjust="spacingAndGlyphs" transform="rotate(-90 929.0 1198.2)">Protein level /α-tubuline</text>
<line x1="1051.8" y1="1206.8" x2="1051.8" y2="1191.7" stroke="#222" stroke-width="2.2" stroke-linecap="butt"/>
<line x1="1037.6" y1="1191.7" x2="1066.8" y2="1191.7" stroke="#222" stroke-width="2.6" stroke-linecap="butt"/>
<line x1="1137.3" y1="1136.6" x2="1137.3" y2="1089.8" stroke="#222" stroke-width="2.2" stroke-linecap="butt"/>
<line x1="1122.1" y1="1089.8" x2="1152.5" y2="1089.8" stroke="#222" stroke-width="2.6" stroke-linecap="butt"/>
<rect x="1022.6" y="1206.8" width="58.5" height="140.4" fill="#000"/>
<rect x="1110.2" y="1138.3" width="54.4" height="208.9" fill="#9a9a9a" stroke="#000" stroke-width="3.5"/>
<line x1="993.5" y1="1045.8" x2="993.5" y2="1349.0" stroke="#000" stroke-width="3.5" stroke-linecap="butt"/>
<line x1="991.8" y1="1347.2" x2="1194.1" y2="1347.2" stroke="#000" stroke-width="3.5" stroke-linecap="butt"/>
<line x1="983.1" y1="1347.2" x2="993.5" y2="1347.2" stroke="#000" stroke-width="3.5" stroke-linecap="butt"/>
<text x="977.1" y="1355.7" font-size="20.9" text-anchor="end" font-weight="bold" stroke="#000" stroke-width="0.5">0.0</text>
<line x1="983.1" y1="1247.3" x2="993.5" y2="1247.3" stroke="#000" stroke-width="3.5" stroke-linecap="butt"/>
<text x="977.1" y="1255.8" font-size="20.9" text-anchor="end" font-weight="bold" stroke="#000" stroke-width="0.5">0.5</text>
<line x1="983.1" y1="1147.4" x2="993.5" y2="1147.4" stroke="#000" stroke-width="3.5" stroke-linecap="butt"/>
<text x="977.1" y="1155.9" font-size="20.9" text-anchor="end" font-weight="bold" stroke="#000" stroke-width="0.5">1.0</text>
<line x1="983.1" y1="1047.5" x2="993.5" y2="1047.5" stroke="#000" stroke-width="3.5" stroke-linecap="butt"/>
<text x="977.1" y="1056.0" font-size="20.9" text-anchor="end" font-weight="bold" stroke="#000" stroke-width="0.5">1.5</text>
<line x1="1051.2" y1="1347.2" x2="1051.2" y2="1359.4" stroke="#000" stroke-width="3.5" stroke-linecap="butt"/>
<text x="1050.4" y="1384.6" font-size="23.1" text-anchor="middle" font-weight="bold" stroke="#000" stroke-width="0.5" textLength="71.0" lengthAdjust="spacingAndGlyphs">CHOW</text>
<line x1="1137.5" y1="1347.2" x2="1137.5" y2="1359.4" stroke="#000" stroke-width="3.5" stroke-linecap="butt"/>
<text x="1137.5" y="1384.6" font-size="23.1" text-anchor="middle" font-weight="bold" stroke="#000" stroke-width="0.5" textLength="31.0" lengthAdjust="spacingAndGlyphs">KD</text>
<path d="M1051.2 1175.6 V1054.0 H1137.5 V1072.2" fill="none" stroke="#000" stroke-width="3" stroke-linejoin="miter"/>
<text x="1094.1" y="1038.4" font-size="22.0" text-anchor="middle">ns</text>
</g>
<defs><filter id="b1" x="-20%" y="-80%" width="140%" height="260%"><feGaussianBlur stdDeviation="3 2.2"/></filter><filter id="b2" x="-20%" y="-80%" width="140%" height="260%"><feGaussianBlur stdDeviation="2.2 1.3"/></filter><filter id="b3" x="-20%" y="-80%" width="140%" height="260%"><feGaussianBlur stdDeviation="5 4"/></filter><filter id="n1" x="0" y="0" width="100%" height="100%"><feTurbulence type="fractalNoise" baseFrequency="0.13" numOctaves="2" seed="4"/><feColorMatrix type="matrix" values="0 0 0 0 0  0 0 0 0 0  0 0 0 0 0  1.5 0 0 0 -0.5"/></filter><filter id="n2" x="0" y="0" width="100%" height="100%"><feTurbulence type="fractalNoise" baseFrequency="0.05 0.09" numOctaves="2" seed="9"/><feColorMatrix type="matrix" values="0 0 0 0 0  0 0 0 0 0  0 0 0 0 0  2.0 0 0 0 -0.75"/></filter></defs>
<g font-family='"Liberation Sans", Arial, sans-serif' fill="#000">
<text x="244.6" y="1424.4" font-size="28.0" text-anchor="middle" textLength="81.0" lengthAdjust="spacingAndGlyphs" stroke="#000" stroke-width="0.6">CHOW</text>
<text x="500.2" y="1424.4" font-size="28.0" text-anchor="middle" textLength="34.0" lengthAdjust="spacingAndGlyphs" stroke="#000" stroke-width="0.6">KD</text>
<rect x="134.7" y="1433.3" width="228.0" height="10.2" fill="#000"/>
<path d="M396.4 1433.3 H518 L530 1436 H605.3 V1443.8 H396.4 Z" fill="#000"/>
<rect x="114.2" y="1461.9" width="495.0" height="50.2" fill="#e4e4e4"/>
<clipPath id="c114_1461"><rect x="114.2" y="1461.9" width="495.00000000000006" height="50.19999999999982"/></clipPath>
<g clip-path="url(#c114_1461)">
<g filter="url(#b3)">
<rect x="133.0" y="1478.0" width="57.6" height="34.0" fill="#000" opacity="0.1"/>
<rect x="210.6" y="1478.0" width="57.5" height="34.0" fill="#000" opacity="0.1"/>
<rect x="288.1" y="1478.0" width="78.1" height="34.0" fill="#000" opacity="0.12"/>
<rect x="383.8" y="1478.0" width="57.6" height="34.0" fill="#000" opacity="0.05"/>
<rect x="461.4" y="1478.0" width="50.7" height="34.0" fill="#000" opacity="0.12"/>
<rect x="532.0" y="1478.0" width="62.2" height="34.0" fill="#000" opacity="0.07"/>
</g>
<rect x="114.2" y="1461.9" width="495.00000000000006" height="50.19999999999982" filter="url(#n2)" opacity="0.1"/>
<g filter="url(#b1)">
<rect x="132.0" y="1483.8" width="59.6" height="10.4" rx="5.2" fill="#000" opacity="0.45"/>
<ellipse cx="161.8" cy="1489.0" rx="24.6" ry="7.3" fill="#000" opacity="0.23"/>
<rect x="209.6" y="1482.8" width="59.5" height="10.4" rx="5.2" fill="#000" opacity="0.5"/>
<ellipse cx="239.4" cy="1488.0" rx="24.6" ry="7.3" fill="#000" opacity="0.25"/>
<rect x="287.1" y="1479.8" width="80.1" height="10.4" rx="5.2" fill="#000" opacity="0.85"/>
<ellipse cx="327.1" cy="1485.0" rx="32.8" ry="7.3" fill="#000" opacity="0.42"/>
<rect x="382.8" y="1484.8" width="59.6" height="10.4" rx="5.2" fill="#000" opacity="0.24"/>
<ellipse cx="412.6" cy="1490.0" rx="24.6" ry="7.3" fill="#000" opacity="0.12"/>
<rect x="460.4" y="1484.8" width="52.7" height="10.4" rx="5.2" fill="#000" opacity="0.68"/>
<ellipse cx="486.8" cy="1490.0" rx="21.9" ry="7.3" fill="#000" opacity="0.34"/>
<rect x="531.0" y="1485.8" width="64.2" height="10.4" rx="5.2" fill="#000" opacity="0.38"/>
<ellipse cx="563.1" cy="1491.0" rx="26.5" ry="7.3" fill="#000" opacity="0.19"/>
</g>
</g>
<rect x="116.5" y="1464.2" width="490.3" height="45.5" fill="none" stroke="#000" stroke-width="4.7"/>
<rect x="116.7" y="1517.2" width="492.5" height="57.6" fill="#e6e6e6"/>
<clipPath id="c116_1517"><rect x="116.7" y="1517.2" width="492.50000000000006" height="57.59999999999991"/></clipPath>
<g clip-path="url(#c116_1517)">
<g filter="url(#b3)">
<rect x="133.0" y="1528.0" width="57.6" height="47.0" fill="#000" opacity="0.12"/>
<rect x="210.6" y="1528.0" width="57.5" height="47.0" fill="#000" opacity="0.16"/>
<rect x="288.1" y="1528.0" width="78.1" height="47.0" fill="#000" opacity="0.12"/>
<rect x="383.8" y="1528.0" width="57.6" height="47.0" fill="#000" opacity="0.07"/>
<rect x="461.4" y="1528.0" width="50.7" height="47.0" fill="#000" opacity="0.12"/>
<rect x="532.0" y="1528.0" width="62.2" height="47.0" fill="#000" opacity="0.06"/>
</g>
<rect x="116.7" y="1517.2" width="492.50000000000006" height="57.59999999999991" filter="url(#n2)" opacity="0.1"/>
<g filter="url(#b1)">
<rect x="132.0" y="1546.1" width="59.6" height="8.8" rx="4.4" fill="#000" opacity="0.2"/>
<ellipse cx="161.8" cy="1550.5" rx="24.6" ry="6.2" fill="#000" opacity="0.10"/>
<rect x="209.6" y="1545.1" width="59.5" height="8.8" rx="4.4" fill="#000" opacity="0.34"/>
<ellipse cx="239.4" cy="1549.5" rx="24.6" ry="6.2" fill="#000" opacity="0.17"/>
<rect x="287.1" y="1541.1" width="80.1" height="8.8" rx="4.4" fill="#000" opacity="0.36"/>
<ellipse cx="327.1" cy="1545.5" rx="32.8" ry="6.2" fill="#000" opacity="0.18"/>
<rect x="382.8" y="1545.1" width="59.6" height="8.8" rx="4.4" fill="#000" opacity="0.14"/>
<ellipse cx="412.6" cy="1549.5" rx="24.6" ry="6.2" fill="#000" opacity="0.07"/>
<rect x="460.4" y="1545.1" width="52.7" height="8.8" rx="4.4" fill="#000" opacity="0.28"/>
<ellipse cx="486.8" cy="1549.5" rx="21.9" ry="6.2" fill="#000" opacity="0.14"/>
<rect x="531.0" y="1547.1" width="64.2" height="8.8" rx="4.4" fill="#000" opacity="0.16"/>
<ellipse cx="563.1" cy="1551.5" rx="26.5" ry="6.2" fill="#000" opacity="0.08"/>
</g>
</g>
<rect x="119.0" y="1519.5" width="487.8" height="52.9" fill="none" stroke="#000" stroke-width="4.7"/>
<rect x="114.2" y="1614.2" width="495.0" height="52.5" fill="#dcdcdc"/>
<clipPath id="c114_1614"><rect x="114.2" y="1614.2" width="495.00000000000006" height="52.5"/></clipPath>
<g clip-path="url(#c114_1614)">
<rect x="114.2" y="1614.2" width="495.00000000000006" height="52.5" filter="url(#n2)" opacity="0.12"/>
<g filter="url(#b2)">
<rect x="134.3" y="1633.9" width="61.9" height="7.2" rx="3.6" fill="#000" opacity="0.95"/>
<ellipse cx="165.2" cy="1637.5" rx="25.6" ry="5.0" fill="#000" opacity="0.47"/>
<rect x="216.4" y="1635.9" width="61.8" height="7.2" rx="3.6" fill="#000" opacity="0.9"/>
<ellipse cx="247.3" cy="1639.5" rx="25.5" ry="5.0" fill="#000" opacity="0.45"/>
<rect x="298.5" y="1636.9" width="55.0" height="7.2" rx="3.6" fill="#000" opacity="0.85"/>
<ellipse cx="326.0" cy="1640.5" rx="22.8" ry="5.0" fill="#000" opacity="0.42"/>
<rect x="373.7" y="1635.9" width="59.6" height="7.2" rx="3.6" fill="#000" opacity="0.95"/>
<ellipse cx="403.5" cy="1639.5" rx="24.6" ry="5.0" fill="#000" opacity="0.47"/>
<rect x="453.5" y="1633.9" width="57.3" height="7.2" rx="3.6" fill="#000" opacity="0.95"/>
<ellipse cx="482.1" cy="1637.5" rx="23.7" ry="5.0" fill="#000" opacity="0.47"/>
<rect x="528.8" y="1634.9" width="64.1" height="7.2" rx="3.6" fill="#000" opacity="0.9"/>
<ellipse cx="560.8" cy="1638.5" rx="26.4" ry="5.0" fill="#000" opacity="0.45"/>
</g>
</g>
<rect x="116.5" y="1616.5" width="490.3" height="47.8" fill="none" stroke="#000" stroke-width="4.7"/>
<rect x="116.7" y="1669.7" width="494.3" height="53.6" fill="#e0e0e0"/>
<clipPath id="c116_1669"><rect x="116.7" y="1669.7" width="494.3" height="53.59999999999991"/></clipPath>
<g clip-path="url(#c116_1669)">
<rect x="116.7" y="1669.7" width="494.3" height="53.59999999999991" filter="url(#n2)" opacity="0.12"/>
<g filter="url(#b2)">
<rect x="136.6" y="1688.7" width="64.1" height="7.6" rx="3.8" fill="#000" opacity="0.95"/>
<ellipse cx="168.6" cy="1692.5" rx="26.4" ry="5.3" fill="#000" opacity="0.47"/>
<rect x="221.0" y="1691.7" width="61.8" height="7.6" rx="3.8" fill="#000" opacity="0.9"/>
<ellipse cx="251.9" cy="1695.5" rx="25.5" ry="5.3" fill="#000" opacity="0.45"/>
<rect x="300.8" y="1691.7" width="55.0" height="7.6" rx="3.8" fill="#000" opacity="0.8"/>
<ellipse cx="328.3" cy="1695.5" rx="22.8" ry="5.3" fill="#000" opacity="0.40"/>
<rect x="385.1" y="1692.7" width="57.3" height="7.6" rx="3.8" fill="#000" opacity="0.92"/>
<ellipse cx="413.8" cy="1696.5" rx="23.7" ry="5.3" fill="#000" opacity="0.46"/>
<rect x="462.6" y="1691.7" width="57.3" height="7.6" rx="3.8" fill="#000" opacity="0.95"/>
<ellipse cx="491.2" cy="1695.5" rx="23.7" ry="5.3" fill="#000" opacity="0.47"/>
<rect x="540.2" y="1685.7" width="52.7" height="7.6" rx="3.8" fill="#000" opacity="0.9"/>
<ellipse cx="566.5" cy="1689.5" rx="21.9" ry="5.3" fill="#000" opacity="0.45"/>
</g>
</g>
<rect x="119.0" y="1672.0" width="489.6" height="48.9" fill="none" stroke="#000" stroke-width="4.7"/>
<text x="623.5" y="1494.0" font-size="26.5" text-anchor="start" font-weight="bold" stroke="#000" stroke-width="1.0" font-style="italic" textLength="46.5" lengthAdjust="spacingAndGlyphs">Akt</text>
<text x="621.2" y="1553.2" font-size="26.5" text-anchor="start" font-weight="bold" stroke="#000" stroke-width="1.0" font-style="italic" textLength="119.5" lengthAdjust="spacingAndGlyphs">a-Tubulin</text>
<text x="621.2" y="1647.6" font-size="26.5" text-anchor="start" font-weight="bold" stroke="#000" stroke-width="1.0" font-style="italic" textLength="71.0" lengthAdjust="spacingAndGlyphs">p-Akt</text>
<text x="621.2" y="1701.4" font-size="26.5" text-anchor="start" font-weight="bold" stroke="#000" stroke-width="1.0" font-style="italic" textLength="119.5" lengthAdjust="spacingAndGlyphs">a-Tubulin</text>
<text x="966.7" y="1426.3" font-size="28.3" text-anchor="middle" textLength="81.0" lengthAdjust="spacingAndGlyphs" stroke="#000" stroke-width="0.6">CHOW</text>
<text x="1209.6" y="1426.3" font-size="28.3" text-anchor="middle" textLength="34.0" lengthAdjust="spacingAndGlyphs" stroke="#000" stroke-width="0.6">KD</text>
<rect x="852.7" y="1437.6" width="239.3" height="10.6" fill="#000"/>
<rect x="1108.8" y="1437.6" width="219.8" height="10.6" fill="#000"/>
<rect x="841.2" y="1463.3" width="498.6" height="44.5" fill="#e4e4e4"/>
<clipPath id="c841_1463"><rect x="841.2" y="1463.3" width="498.5999999999999" height="44.5"/></clipPath>
<g clip-path="url(#c841_1463)">
<rect x="841.2" y="1463.3" width="498.5999999999999" height="44.5" filter="url(#n2)" opacity="0.08"/>
<g filter="url(#b3)">
<rect x="855.9" y="1476.5" width="63.2" height="16.0" rx="8.0" fill="#000" opacity="0.11"/>
<ellipse cx="887.5" cy="1484.5" rx="26.1" ry="11.2" fill="#000" opacity="0.06"/>
<rect x="935.1" y="1476.5" width="63.2" height="16.0" rx="8.0" fill="#000" opacity="0.17"/>
<ellipse cx="966.7" cy="1484.5" rx="26.1" ry="11.2" fill="#000" opacity="0.09"/>
<rect x="1016.6" y="1476.5" width="72.5" height="16.0" rx="8.0" fill="#000" opacity="0.15"/>
<ellipse cx="1052.8" cy="1484.5" rx="29.8" ry="11.2" fill="#000" opacity="0.07"/>
<rect x="1109.8" y="1476.5" width="63.2" height="16.0" rx="8.0" fill="#000" opacity="0.11"/>
<ellipse cx="1141.4" cy="1484.5" rx="26.1" ry="11.2" fill="#000" opacity="0.06"/>
<rect x="1189.0" y="1476.5" width="56.2" height="16.0" rx="8.0" fill="#000" opacity="0.17"/>
<ellipse cx="1217.1" cy="1484.5" rx="23.3" ry="11.2" fill="#000" opacity="0.09"/>
<rect x="1265.8" y="1476.5" width="60.9" height="16.0" rx="8.0" fill="#000" opacity="0.08"/>
<ellipse cx="1296.2" cy="1484.5" rx="25.2" ry="11.2" fill="#000" opacity="0.04"/>
</g>
</g>
<rect x="843.6" y="1465.6" width="493.9" height="39.8" fill="none" stroke="#000" stroke-width="4.7"/>
<rect x="840.8" y="1517.0" width="499.0" height="58.1" fill="#e2e2e2"/>
<clipPath id="c840_1517"><rect x="840.8" y="1517" width="499.0" height="58.09999999999991"/></clipPath>
<g clip-path="url(#c840_1517)">
<g filter="url(#b3)">
<rect x="856.9" y="1530.0" width="61.2" height="46.0" fill="#000" opacity="0.14"/>
<rect x="936.1" y="1530.0" width="61.2" height="46.0" fill="#000" opacity="0.18"/>
<rect x="1017.6" y="1530.0" width="70.5" height="46.0" fill="#000" opacity="0.14"/>
<rect x="1110.8" y="1530.0" width="61.2" height="46.0" fill="#000" opacity="0.08"/>
<rect x="1190.0" y="1530.0" width="54.2" height="46.0" fill="#000" opacity="0.12"/>
<rect x="1266.8" y="1530.0" width="58.9" height="46.0" fill="#000" opacity="0.08"/>
</g>
<rect x="840.8" y="1517" width="499.0" height="58.09999999999991" filter="url(#n2)" opacity="0.1"/>
<g filter="url(#b1)">
<rect x="855.9" y="1544.2" width="63.2" height="10.4" rx="5.2" fill="#000" opacity="0.16"/>
<ellipse cx="887.5" cy="1549.4" rx="26.1" ry="7.3" fill="#000" opacity="0.08"/>
<rect x="935.1" y="1541.7" width="63.2" height="10.4" rx="5.2" fill="#000" opacity="0.36"/>
<ellipse cx="966.7" cy="1546.9" rx="26.1" ry="7.3" fill="#000" opacity="0.18"/>
<rect x="1016.6" y="1540.2" width="72.5" height="10.4" rx="5.2" fill="#000" opacity="0.36"/>
<ellipse cx="1052.8" cy="1545.4" rx="29.8" ry="7.3" fill="#000" opacity="0.18"/>
<rect x="1109.8" y="1545.2" width="63.2" height="10.4" rx="5.2" fill="#000" opacity="0.12"/>
<ellipse cx="1141.4" cy="1550.4" rx="26.1" ry="7.3" fill="#000" opacity="0.06"/>
<rect x="1189.0" y="1544.2" width="56.2" height="10.4" rx="5.2" fill="#000" opacity="0.28"/>
<ellipse cx="1217.1" cy="1549.4" rx="23.3" ry="7.3" fill="#000" opacity="0.14"/>
<rect x="1265.8" y="1546.2" width="60.9" height="10.4" rx="5.2" fill="#000" opacity="0.15"/>
<ellipse cx="1296.2" cy="1551.4" rx="25.2" ry="7.3" fill="#000" opacity="0.07"/>
</g>
</g>
<rect x="843.1" y="1519.3" width="494.3" height="53.4" fill="none" stroke="#000" stroke-width="4.7"/>
<rect x="841.4" y="1606.7" width="500.6" height="53.5" fill="#e8e8e8"/>
<clipPath id="c841_1606"><rect x="841.4" y="1606.7" width="500.6" height="53.5"/></clipPath>
<g clip-path="url(#c841_1606)">
<rect x="841.4" y="1606.7" width="500.6" height="53.5" filter="url(#n1)" opacity="0.3"/>
<g filter="url(#b2)">
<rect x="860.6" y="1632.3" width="67.9" height="4.4" rx="2.2" fill="#000" opacity="0.75"/>
<ellipse cx="894.5" cy="1634.5" rx="28.0" ry="3.1" fill="#000" opacity="0.38"/>
<rect x="944.4" y="1633.3" width="60.9" height="4.4" rx="2.2" fill="#000" opacity="0.6"/>
<ellipse cx="974.8" cy="1635.5" rx="25.2" ry="3.1" fill="#000" opacity="0.30"/>
<rect x="1025.9" y="1630.3" width="65.6" height="4.4" rx="2.2" fill="#000" opacity="0.5"/>
<ellipse cx="1058.7" cy="1632.5" rx="27.0" ry="3.1" fill="#000" opacity="0.25"/>
<rect x="1114.4" y="1629.3" width="56.2" height="4.4" rx="2.2" fill="#000" opacity="0.75"/>
<ellipse cx="1142.5" cy="1631.5" rx="23.3" ry="3.1" fill="#000" opacity="0.38"/>
<rect x="1191.3" y="1627.3" width="58.5" height="4.4" rx="2.2" fill="#000" opacity="0.9"/>
<ellipse cx="1220.5" cy="1629.5" rx="24.2" ry="3.1" fill="#000" opacity="0.45"/>
<rect x="1263.5" y="1623.3" width="58.4" height="4.4" rx="2.2" fill="#000" opacity="0.5"/>
<ellipse cx="1292.7" cy="1625.5" rx="24.2" ry="3.1" fill="#000" opacity="0.25"/>
</g>
</g>
<rect x="843.8" y="1609.0" width="495.9" height="48.8" fill="none" stroke="#000" stroke-width="4.7"/>
<rect x="840.8" y="1667.1" width="501.2" height="55.8" fill="#e2e2e2"/>
<clipPath id="c840_1667"><rect x="840.8" y="1667.1" width="501.20000000000005" height="55.80000000000018"/></clipPath>
<g clip-path="url(#c840_1667)">
<rect x="840.8" y="1667.1" width="501.20000000000005" height="55.80000000000018" filter="url(#n1)" opacity="0.45"/>
<g filter="url(#b2)">
<rect x="867.6" y="1691.8" width="63.2" height="6.4" rx="3.2" fill="#000" opacity="0.85"/>
<ellipse cx="899.2" cy="1695.0" rx="26.1" ry="4.5" fill="#000" opacity="0.42"/>
<rect x="946.8" y="1690.8" width="63.2" height="6.4" rx="3.2" fill="#000" opacity="0.75"/>
<ellipse cx="978.4" cy="1694.0" rx="26.1" ry="4.5" fill="#000" opacity="0.38"/>
<rect x="1028.3" y="1690.8" width="63.2" height="6.4" rx="3.2" fill="#000" opacity="0.75"/>
<ellipse cx="1059.9" cy="1694.0" rx="26.1" ry="4.5" fill="#000" opacity="0.38"/>
<rect x="1102.8" y="1690.8" width="63.2" height="6.4" rx="3.2" fill="#000" opacity="0.82"/>
<ellipse cx="1134.4" cy="1694.0" rx="26.1" ry="4.5" fill="#000" opacity="0.41"/>
<rect x="1182.0" y="1689.8" width="58.5" height="6.4" rx="3.2" fill="#000" opacity="0.75"/>
<ellipse cx="1211.2" cy="1693.0" rx="24.2" ry="4.5" fill="#000" opacity="0.38"/>
<rect x="1254.2" y="1687.8" width="63.2" height="6.4" rx="3.2" fill="#000" opacity="0.85"/>
<ellipse cx="1285.8" cy="1691.0" rx="26.1" ry="4.5" fill="#000" opacity="0.42"/>
</g>
</g>
<rect x="843.1" y="1669.4" width="496.5" height="51.1" fill="none" stroke="#000" stroke-width="4.7"/>
<text x="1348.8" y="1493.4" font-size="26.5" text-anchor="start" font-weight="bold" stroke="#000" stroke-width="1.0" font-style="italic" textLength="93.5" lengthAdjust="spacingAndGlyphs">P70S6K</text>
<text x="1346.8" y="1548.4" font-size="26.5" text-anchor="start" font-weight="bold" stroke="#000" stroke-width="1.0" font-style="italic" textLength="118.5" lengthAdjust="spacingAndGlyphs">a-Tubulin</text>
<text x="1348.2" y="1639.2" font-size="26.5" text-anchor="start" font-weight="bold" stroke="#000" stroke-width="1.0" font-style="italic" textLength="121.0" lengthAdjust="spacingAndGlyphs">p-P70S6K</text>
<text x="1350.0" y="1704.4" font-size="26.5" text-anchor="start" font-weight="bold" stroke="#000" stroke-width="1.0" font-style="italic" textLength="119.5" lengthAdjust="spacingAndGlyphs">a-Tubulin</text>
</g>
</svg>
</body>
</html>
